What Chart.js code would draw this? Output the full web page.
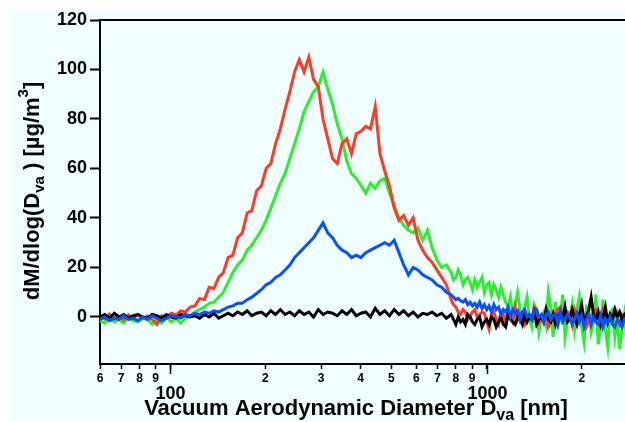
<!DOCTYPE html>
<html>
<head>
<meta charset="utf-8">
<script src="https://cdn.jsdelivr.net/npm/chart.js@4/dist/chart.umd.min.js"></script>
<style>
  body { margin: 0; overflow: hidden; background: #fff; }
</style>
</head>
<body>
<canvas id="sizeDist" width="625" height="422"></canvas>
<script>
// vacuum aerodynamic diameter bins [nm] (finer above ~770 nm)
const diam = [
  60.0, 62.1, 64.3, 66.6, 68.9, 71.3, 73.8, 76.4, 79.1, 81.9,
  84.8, 87.7, 90.8, 94.0, 97.3, 100.7, 104.3, 107.9, 111.7, 115.6,
  119.7, 123.9, 128.3, 132.8, 137.5, 142.3, 147.3, 152.5, 157.8, 163.4,
  169.1, 175.1, 181.2, 187.6, 194.2, 201.0, 208.1, 215.4, 222.9, 230.8,
  238.9, 247.3, 256.0, 265.0, 274.3, 283.9, 293.9, 304.2, 314.9, 326.0,
  337.4, 349.3, 361.6, 374.3, 387.4, 401.0, 415.1, 429.7, 444.8, 460.4,
  476.6, 493.3, 510.7, 528.6, 547.2, 566.4, 586.3, 606.9, 628.3, 650.3,
  673.1, 696.8, 721.3, 746.6,
  772.9, 786.4, 800.0, 813.9, 828.2, 842.6, 857.3, 872.2, 887.4, 902.9,
  918.6, 934.6, 950.9, 967.5, 984.3, 1001.5, 1018.9, 1036.6, 1054.7, 1073.1,
  1091.8, 1110.8, 1130.2, 1149.9, 1169.9, 1190.3, 1211.0, 1232.1, 1253.6, 1275.4,
  1297.7, 1320.3, 1343.2, 1366.6, 1390.5, 1414.7, 1439.3, 1464.4, 1489.9, 1515.9,
  1542.3, 1569.2, 1596.5, 1624.3, 1652.6, 1681.4, 1710.7, 1740.5, 1770.8, 1801.6,
  1833.1, 1865.0, 1897.5, 1930.5, 1964.2, 1998.4, 2033.2, 2068.6, 2104.7, 2141.4,
  2178.7, 2216.6, 2255.3, 2294.6, 2334.5, 2375.2, 2416.6, 2458.7, 2501.5, 2545.1,
  2589.4, 2634.5, 2680.4, 2727.1, 2774.6
]

// dM/dlog(Dva) [ug/m3]
const red = [
  0.5, -0.8, 1.2, -0.5, 0.3, -1.2, 0.8, -0.4, 1.0, -0.6,
  0.4, -1.0, -3.0, 0.5, -0.5, 1.5, 0.8, 2.5, 2.0, 4.0,
  4.5, 7.5, 7.0, 12.0, 11.5, 16.0, 18.0, 24.0, 25.0, 32.0,
  34.0, 42.0, 43.0, 51.0, 53.0, 60.0, 62.0, 70.0, 76.0, 84.0,
  91.0, 99.0, 104.0, 99.0, 105.0, 96.0, 93.0, 80.0, 72.0, 64.0,
  62.0, 70.0, 72.0, 66.0, 74.0, 75.0, 77.0, 76.0, 85.0, 66.0,
  59.0, 53.0, 44.0, 39.0, 41.0, 37.0, 40.0, 31.0, 27.0, 24.0,
  22.0, 19.0, 16.0, 13.0,
  7.0, 5.0, 4.0, 2.0, 1.0, 3.0, 2.0, -1.0, 0.5, 2.0,
  3.0, 0.0, 1.0, 2.0, 1.5, -2.0, -5.0, 1.0, 2.0, -1.0,
  -3.0, 2.0, 1.0, -2.0, 3.0, 0.0, -2.0, 4.0, -1.0, 1.0,
  2.0, -3.0, -1.0, 1.0, -0.5, 4.0, 3.0, -2.0, 0.0, 1.0,
  2.0, -4.0, -2.0, 2.0, 1.0, 3.0, 4.0, -1.0, 0.5, 2.0,
  1.0, -3.0, 3.0, 0.0, -1.0, 2.0, 1.0, -4.0, -2.0, 0.0,
  2.0, 3.0, 0.0, -2.0, 3.0, 1.0, -2.0, -1.0, 1.0, 3.0,
  -1.0, -3.0, 1.0, 0.0, -1.0
]
const green = [
  -1.5, -2.5, -0.5, -2.0, -1.0, -2.5, 0.0, -1.5, -2.0, -0.5,
  -1.0, -3.0, -1.0, -2.5, 0.0, -2.0, -0.5, -2.5, -0.5, 0.5,
  2.0, 3.0, 4.0, 5.5, 6.0, 8.0, 10.0, 14.0, 18.0, 21.0,
  23.0, 27.0, 29.0, 32.0, 35.0, 39.0, 44.0, 49.0, 54.0, 58.0,
  64.0, 70.0, 76.0, 83.0, 87.0, 91.0, 93.0, 99.0, 92.0, 86.0,
  78.0, 72.0, 63.0, 58.0, 56.0, 53.0, 50.0, 54.0, 52.0, 55.0,
  56.0, 50.0, 45.0, 40.0, 37.0, 35.0, 34.0, 36.0, 31.0, 35.0,
  28.0, 23.0, 20.0, 21.0,
  18.0, 15.0, 16.0, 19.0, 17.0, 13.0, 15.0, 16.0, 14.0, 11.0,
  15.0, 12.0, 14.0, 16.0, 10.0, 13.0, 14.0, 9.0, 13.0, 11.0,
  8.0, 12.0, 9.0, 6.0, 4.0, 8.0, 1.0, 5.0, 10.0, 3.0,
  -2.0, 4.0, 8.0, -1.0, -4.0, 5.0, 3.0, -6.0, 0.0, 2.0,
  -3.0, 10.0, 4.0, -8.0, 6.0, -3.0, -1.0, 9.0, -8.0, -2.0,
  0.0, 5.0, -5.0, 3.0, 8.0, -4.0, -10.0, 4.0, 3.0, -6.0,
  -2.0, 9.0, -11.0, -4.0, 7.0, -5.0, -12.0, 2.0, 3.0, -8.0,
  -1.0, -13.0, -5.0, 1.0, -9.0
]
const blue = [
  -1.0, 0.0, -1.5, -0.5, -1.0, 0.5, -1.0, -0.5, -1.5, 0.0,
  -1.0, 0.5, -0.5, -1.5, -0.5, 0.5, 0.0, -0.5, 1.0, 0.5,
  1.5, 1.0, 2.0, 1.5, 2.5, 2.0, 3.0, 4.0, 4.5, 5.5,
  5.5, 7.0, 8.0, 9.5, 11.0, 13.0, 14.0, 16.0, 17.0, 19.0,
  21.0, 24.0, 26.0, 28.0, 30.0, 32.0, 35.0, 38.0, 34.0, 32.0,
  29.0, 27.0, 26.0, 24.0, 25.0, 24.0, 26.0, 27.0, 28.0, 29.0,
  30.0, 29.0, 31.0, 26.0, 21.0, 17.0, 20.0, 19.0, 17.0, 16.0,
  15.0, 13.0, 12.0, 10.0,
  9.0, 8.0, 7.0, 7.5, 6.5, 6.0, 7.0, 5.0, 6.0, 4.5,
  5.5, 4.0, 6.0, 3.5, 5.0, 3.0, 4.5, 2.0, 5.0, 3.0,
  4.0, 1.0, 3.0, 2.0, 4.0, 0.0, 3.0, 1.5, 2.5, -1.0,
  2.0, 3.0, 0.0, 1.0, -1.0, 2.5, 3.0, 0.0, 1.0, -2.0,
  1.0, 2.0, -1.0, 0.5, 1.0, -3.0, 2.0, -2.0, -1.0, 1.0,
  0.0, -3.0, -1.0, 1.5, -2.0, 0.5, -4.0, -1.0, 1.0, -3.0,
  0.0, -2.0, -3.0, 0.5, -4.0, -1.0, -2.0, 0.0, -3.0, -4.0,
  -1.0, -2.0, -4.0, -1.0, -2.0
]
const black = [
  0.0, 1.0, -0.5, 1.5, 0.0, 1.0, -0.5, 0.5, 1.0, 0.0,
  -0.5, 1.0, 0.5, -0.5, 1.0, 0.0, -0.5, 1.0, 0.5, 0.0,
  0.5, -0.5, 1.0, 0.0, 1.5, -0.5, 0.5, 1.5, 0.5, 2.0,
  1.0, 2.5, 0.5, 1.5, 2.0, 0.5, 2.5, 1.0, 3.0, 1.0,
  2.0, 0.5, 2.5, 1.0, 2.0, 0.0, 3.0, 1.0, 2.0, 1.5,
  0.5, 2.5, 1.0, 3.0, 0.5, 1.5, 2.0, 0.0, 3.5, 1.0,
  2.5, 0.5, 3.0, 1.0, 2.5, 0.5, 2.0, 0.0, 1.5, 1.0,
  2.0, 0.5, 1.5, -0.5,
  1.0, -1.0, -3.0, 0.0, -2.0, -1.0, -3.0, 1.0, 0.0, -2.0,
  -3.0, -1.0, 0.0, -4.0, -2.0, -1.0, -3.0, 0.0, -1.0, -4.0,
  -2.0, 0.0, -3.0, -4.0, 1.0, -1.0, -2.0, -3.0, 0.0, -1.0,
  -3.0, 1.0, -2.0, 0.0, -1.0, 2.0, -3.0, -1.0, 0.0, -2.0,
  3.0, -1.0, -2.0, 1.0, -3.0, 0.0, 2.0, -1.0, 4.0, -2.0,
  -1.0, 3.0, 0.0, -3.0, 1.0, 5.0, -2.0, 0.0, 3.0, 8.0,
  1.0, -1.0, 2.0, -3.0, 0.0, 4.0, -2.0, 1.0, -1.0, 3.0,
  0.0, 2.0, -1.0, 1.0, 2.0
]

// ticks
const xTicks = [60, 70, 80, 90, 100, 200, 300, 400, 500, 600, 700, 800, 900, 1000, 2000]
const xMajor = [100, 1000]
const yTicks = [0, 20, 40, 60, 80, 100, 120]

const FONT = '"Liberation Sans", Arial, sans-serif'

const pts = ys => diam.map((d, i) => ({ x: d, y: ys[i] }))

function line(data, color) {
    return {
        data: pts(data),
        borderColor: color,
        borderWidth: 3,
        pointRadius: 0,
        tension: 0,
        fill: false
    }
}

// draws text in pieces: [text, size, baseline shift]
function drawParts(ctx, parts, x, y) {
    let w = 0
    parts.forEach(p => { ctx.font = 'bold ' + p[1] + 'px ' + FONT; w += ctx.measureText(p[0]).width })
    let cx = x - w / 2
    parts.forEach(p => {
        ctx.font = 'bold ' + p[1] + 'px ' + FONT
        ctx.fillText(p[0], cx, y + p[2])
        cx += ctx.measureText(p[0]).width
    })
}

const decor = {
    id: 'decor',
    beforeDraw(chart) {
        const ctx = chart.ctx
        ctx.save()
        ctx.fillStyle = '#ffffff'
        ctx.fillRect(0, 0, chart.width, chart.height)
        ctx.fillStyle = '#f0ffff'
        ctx.fillRect(10, 11, chart.width - 10, 409)
        ctx.restore()
    },
    afterDraw(chart) {
        const ctx = chart.ctx, a = chart.chartArea
        const xs = chart.scales.x
        ctx.save()
        ctx.strokeStyle = '#000'
        ctx.fillStyle = '#000'
        // top frame line
        ctx.lineWidth = 2
        ctx.beginPath()
        ctx.moveTo(a.left - 1, a.top)
        ctx.lineTo(a.right, a.top)
        ctx.stroke()
        // longer ticks and labels for decades
        ctx.lineWidth = 1.5
        ctx.textAlign = 'center'
        ctx.textBaseline = 'middle'
        ctx.font = 'bold 18px ' + FONT
        xMajor.forEach(v => {
            const px = Math.round(xs.getPixelForValue(v)) + 0.5
            ctx.beginPath()
            ctx.moveTo(px, a.bottom)
            ctx.lineTo(px, a.bottom + 10)
            ctx.stroke()
            ctx.fillText(String(v), px, 394)
        })
        // x title
        ctx.textAlign = 'left'
        ctx.textBaseline = 'alphabetic'
        drawParts(ctx, [['Vacuum Aerodynamic Diameter D', 22, 0], ['va', 16, 5], [' [nm]', 22, 0]], 356, 415)
        // y title
        ctx.translate(39, 191)
        ctx.rotate(-Math.PI / 2)
        drawParts(ctx, [['dM/dlog(D', 22, 0], ['va', 15, 5], [' ) [\u00b5g/m', 22, 0], ['3', 15, -11], [']', 22, 0]], 0, 0)
        ctx.restore()
    }
}

new Chart(document.getElementById('sizeDist'), {
    type: 'line',
    data: {
        // first dataset ends up on top
        datasets: [line(blue, '#0a50ff'), line(black, '#000000'), line(red, '#ff3a28'), line(green, '#2bef2b')]
    },
    options: {
        responsive: false,
        animation: false,
        devicePixelRatio: 1,
        layout: { padding: { top: 20, left: 0, right: 0, bottom: 0 } },
        plugins: { legend: { display: false }, tooltip: { enabled: false } },
        scales: {
            x: {
                type: 'logarithmic',
                min: 60,
                max: 2740,
                afterBuildTicks: s => { s.ticks = xTicks.map(v => ({ value: v })) },
                afterFit: s => { s.height = 58 },
                grid: { drawOnChartArea: false, tickLength: 5, tickWidth: 1.5, tickColor: '#000' },
                border: { color: '#000', width: 2 },
                ticks: {
                    autoSkip: false,
                    maxRotation: 0,
                    padding: 2,
                    color: '#000',
                    font: { family: FONT, size: 12, weight: 'bold' },
                    callback: v => xMajor.includes(v) ? '' : String(v)[0]
                }
            },
            y: {
                min: -19,
                max: 120,
                afterBuildTicks: s => { s.ticks = yTicks.map(v => ({ value: v })) },
                afterFit: s => { s.width = 100 },
                grid: { drawOnChartArea: false, tickLength: 10, tickWidth: 2, tickColor: '#000' },
                border: { color: '#000', width: 2 },
                ticks: {
                    padding: 3,
                    color: '#000',
                    font: { family: FONT, size: 18, weight: 'bold' }
                }
            }
        }
    },
    plugins: [decor]
})
</script>
</body>
</html>
